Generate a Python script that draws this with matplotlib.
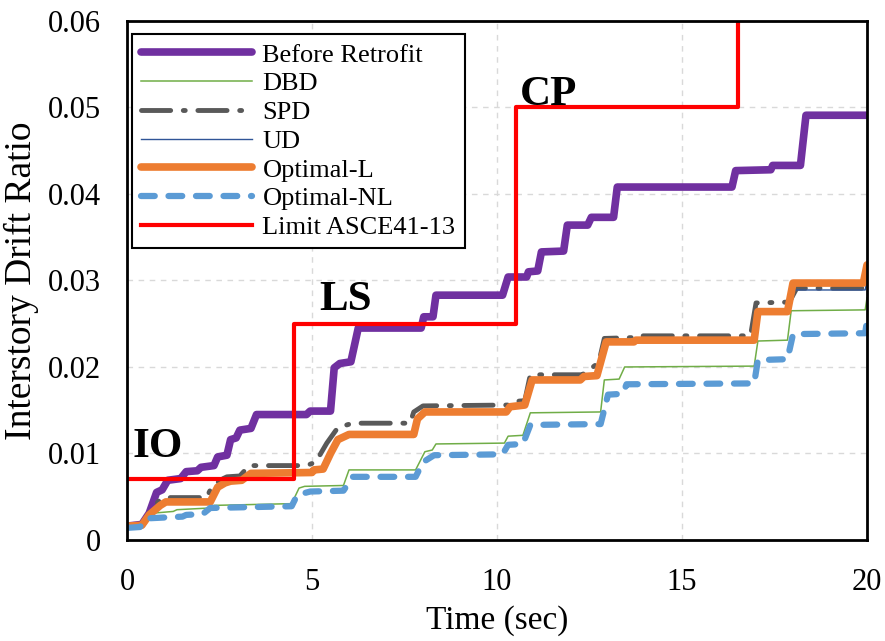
import matplotlib
matplotlib.use('Agg')
import matplotlib.pyplot as plt

plt.rcParams['font.family'] = ['Liberation Serif', 'DejaVu Serif']

# step curves: (time, drift ratio) vertices
before_t = [0, 0.4, 0.6, 0.8, 0.95, 1.1, 1.45, 1.6, 1.9, 2.0, 2.35, 2.45, 2.7, 2.8, 2.95, 3.05, 3.35, 3.5,
            4.85, 4.95, 5.5, 5.6, 5.75, 6.05, 6.25, 7.95, 8.02, 8.27, 8.35, 10.15, 10.3, 10.8, 10.85, 11.1,
            11.2, 11.8, 11.9, 12.45, 12.55, 13.15, 13.25, 16.35, 16.45, 17.4, 17.45, 18.2, 18.35, 20]
before_v = [0.0016, 0.0018, 0.0031, 0.0055, 0.0058, 0.0069, 0.0071, 0.0079, 0.0080, 0.0084, 0.0086, 0.0096,
            0.0098, 0.0116, 0.0118, 0.0127, 0.0129, 0.0145, 0.0145, 0.0149, 0.0149, 0.0199, 0.0204, 0.0206,
            0.0245, 0.0245, 0.0258, 0.0258, 0.0283, 0.0283, 0.0304, 0.0304, 0.0310, 0.0311, 0.0333, 0.0334,
            0.0364, 0.0364, 0.0373, 0.0373, 0.0408, 0.0408, 0.0427, 0.0428, 0.0433, 0.0433, 0.0491, 0.0491]

dbd_t = [0, 0.4, 0.55, 0.7, 1.25, 1.35, 2.25, 2.35, 4.45, 4.65, 4.8, 5.85, 6.0, 7.8, 8.05, 8.25, 8.35, 10.2,
         10.3, 10.7, 10.9, 12.8, 12.9, 13.3, 13.45, 16.95, 17.05, 17.85, 17.95, 19.95, 20]
dbd_v = [0.0016, 0.0018, 0.0029, 0.0031, 0.0033, 0.0035, 0.0037, 0.0040, 0.0042, 0.0060, 0.0062, 0.0063,
         0.0081, 0.0081, 0.0102, 0.0104, 0.0111, 0.0112, 0.0120, 0.0121, 0.0147, 0.0148, 0.0185, 0.0186,
         0.0200, 0.0201, 0.0230, 0.0231, 0.0265, 0.0266, 0.0280]

spd_t = [0, 0.4, 0.65, 0.9, 1.05, 2.15, 2.3, 2.6, 2.7, 3.05, 3.3, 4.85, 5.1, 5.4, 5.7, 6.1, 7.65, 7.75, 8.0,
         10.3, 10.4, 10.75, 10.9, 12.3, 12.5, 12.75, 12.9, 13.7, 13.75, 16.85, 17.0, 17.9, 18.1, 19.95, 20]
spd_v = [0.0016, 0.0018, 0.0035, 0.0047, 0.0049, 0.0049, 0.0062, 0.0071, 0.0073, 0.0074, 0.0086, 0.0086,
         0.0090, 0.0112, 0.0130, 0.0135, 0.0135, 0.0148, 0.0155, 0.0156, 0.0160, 0.0161, 0.0191, 0.0191,
         0.0197, 0.0205, 0.0233, 0.0234, 0.0236, 0.0236, 0.0274, 0.0275, 0.0291, 0.0291, 0.0300]

optl_t = [0, 0.4, 0.6, 0.9, 1.05, 2.25, 2.45, 2.65, 2.8, 3.1, 3.35, 5.0, 5.05, 5.3, 5.5, 5.7, 6.0, 7.75,
          7.85, 8.05, 10.25, 10.35, 10.75, 10.95, 12.25, 12.35, 12.7, 12.95, 13.7, 13.75, 16.95, 17.05,
          17.85, 18.0, 19.9, 20]
optl_v = [0.0016, 0.0017, 0.0029, 0.0040, 0.0044, 0.0044, 0.0061, 0.0066, 0.0068, 0.0069, 0.0077, 0.0078,
          0.0081, 0.0082, 0.0100, 0.0116, 0.0122, 0.0122, 0.0140, 0.0148, 0.0148, 0.0154, 0.0156, 0.0185,
          0.0185, 0.0189, 0.0190, 0.0229, 0.0229, 0.0231, 0.0231, 0.0264, 0.0264, 0.0297, 0.0297, 0.0318]

ud_t = optl_t[:-3] + [18.0, 19.95, 20]
ud_v = optl_v[:-3] + [0.0289, 0.0289, 0.0300]

optnl_t = [0, 0.35, 0.55, 1.5, 1.6, 2.05, 2.25, 4.45, 4.6, 4.95, 5.85, 6.1, 7.8, 8.0, 8.3, 10.15, 10.3,
           10.7, 10.9, 12.8, 13.0, 13.4, 13.5, 16.95, 17.05, 17.85, 18.0, 19.95, 20]
optnl_v = [0.0014, 0.0015, 0.0025, 0.0027, 0.0029, 0.0030, 0.0037, 0.0039, 0.0052, 0.0056, 0.0057, 0.0073,
           0.0073, 0.0090, 0.0098, 0.0099, 0.0110, 0.0111, 0.0133, 0.0134, 0.0168, 0.0169, 0.0180, 0.0181,
           0.0208, 0.0209, 0.0238, 0.0239, 0.0254]

limit_t = [0, 4.5, 4.5, 10.5, 10.5, 16.5, 16.5]
limit_v = [0.007, 0.007, 0.025, 0.025, 0.05, 0.05, 0.07]

fig = plt.figure(figsize=(8.85, 6.41), dpi=100)
ax = fig.add_axes([0.1435, 0.1576, 0.8362, 0.8097])

ax.plot(before_t, before_v, color='#7030A0', lw=5.5, label='Before Retrofit', solid_capstyle='round')
ax.plot(dbd_t, dbd_v, color='#70AD47', lw=1.1, label='DBD')
ax.plot(spd_t, spd_v, color='#595959', lw=3.5, dashes=(6, 2.6, 0.4, 2.6), dash_capstyle='round',
        label='SPD')
ax.plot(ud_t, ud_v, color='#2F5597', lw=1.0, label='UD')
ax.plot(optl_t, optl_v, color='#ED7D31', lw=5.5, label='Optimal-L', solid_capstyle='round')
ax.plot(optnl_t, optnl_v, color='#5B9BD5', lw=4.5, dashes=(2.2, 2.2), dash_capstyle='round',
        label='Optimal-NL')
ax.plot(limit_t, limit_v, color='#FF0000', lw=3, label='Limit ASCE41-13')

ax.text(0.84, 0.0108, 'IO', fontsize=31, fontweight='bold', ha='center', va='center')
ax.text(5.9, 0.0277, 'LS', fontsize=31, fontweight='bold', ha='center', va='center')
ax.text(11.4, 0.0514, 'CP', fontsize=31, fontweight='bold', ha='center', va='center')

ax.set_xlim(0, 20)
ax.set_ylim(0, 0.06)
ax.set_xticks([0, 5, 10, 15, 20])
ax.set_yticks([0, 0.01, 0.02, 0.03, 0.04, 0.05, 0.06])
ax.set_yticklabels(['0', '0.01', '0.02', '0.03', '0.04', '0.05', '0.06'])
ax.tick_params(length=0, labelsize=22)
ax.tick_params(axis='x', pad=20)
ax.tick_params(axis='y', pad=19)
ax.grid(True, color='#D9D9D9', ls=(0, (4, 4)), lw=1)
ax.set_axisbelow(True)
for s in ax.spines.values():
    s.set_linewidth(2)
ax.set_xlabel('Time (sec)', fontsize=24, labelpad=6)
ax.set_ylabel('Interstory Drift Ratio', fontsize=27, labelpad=6)

leg = ax.legend(loc='upper left', bbox_to_anchor=(0.0065, 0.975), fontsize=19, frameon=True,
                fancybox=False, edgecolor='black', handlelength=4.2, handletextpad=0.4,
                labelspacing=0.2, borderpad=0.35, borderaxespad=0)
leg.get_frame().set_linewidth(1.5)
leg.get_frame().set_alpha(1)

fig.savefig('out.png', dpi=100)
